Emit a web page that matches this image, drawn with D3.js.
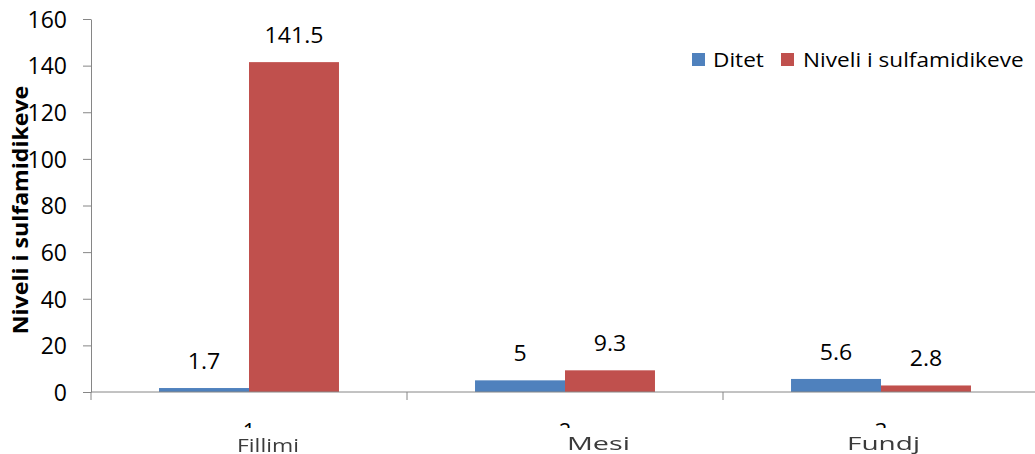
<!DOCTYPE html>
<html>
<head>
<meta charset="utf-8">
<script src="https://cdn.jsdelivr.net/npm/d3@7"></script>
<style>
  html, body { margin: 0; padding: 0; background: #fff; }
  svg { display: block; font-family: "Open Sans", "Noto Sans", sans-serif; }
</style>
</head>
<body>
<svg id="chart" width="1035" height="454"></svg>
<script>
// Category axis: numeric ticks with a name laid over each
const categories = ["1", "2", "3"];
const categoryNames = ["Fillimi", "Mesi", "Fundj"];

// Series
const seriesNames = ["Ditet", "Niveli i sulfamidikeve"];
const ditet = [1.7, 5, 5.6];
const niveli = [141.5, 9.3, 2.8];

// Value axis ticks
const yTicks = [0, 20, 40, 60, 80, 100, 120, 140, 160];

const colors = ["#4F81BD", "#C0504D"];
const axisColor = "#868686";

const svg = d3.select("#chart");
const margin = { left: 91, top: 19, bottom: 392, right: 1039 };

const x0 = d3.scaleBand().domain(categories).range([margin.left, margin.right]);
const x1 = d3.scaleBand().domain(seriesNames).range([0, x0.bandwidth()]).paddingOuter(0.756);
const y = d3.scaleLinear().domain([0, 160]).range([margin.bottom, margin.top]);

const rows = categories.map((c, i) => ({ cat: c, values: [ditet[i], niveli[i]] }));

// Horizontally widened text, used for labels drawn in a wide face
function wideText(g, x, yy, txt, sx, anchor) {
  return g.append("text")
    .attr("transform", `translate(${x},${yy}) scale(${sx},1)`)
    .attr("text-anchor", anchor || "start")
    .text(txt);
}

// Bars
const groups = svg.append("g").selectAll("g").data(rows).join("g")
  .attr("transform", d => `translate(${x0(d.cat)},0)`);

groups.selectAll("rect").data(d => d.values.map((v, k) => ({ k, v }))).join("rect")
  .attr("x", d => x1(seriesNames[d.k]))
  .attr("y", d => y(d.v))
  .attr("width", x1.bandwidth())
  .attr("height", d => y(0) - y(d.v))
  .attr("fill", d => colors[d.k]);

// Value labels
const labelLayer = svg.append("g").attr("font-size", 22).attr("fill", "#000");
rows.forEach(r => {
  r.values.forEach((v, k) => {
    const cx = x0(r.cat) + x1(seriesNames[k]) + x1.bandwidth() / 2;
    wideText(labelLayer, cx, y(v) - 19, String(v), 1.05, "middle");
  });
});

// Y axis
const yAxis = svg.append("g")
  .attr("transform", `translate(${margin.left},0)`)
  .call(d3.axisLeft(y).tickValues(yTicks).tickSize(8).tickPadding(16).tickSizeOuter(0));
yAxis.select(".domain").attr("stroke", axisColor);
yAxis.selectAll(".tick line").attr("stroke", axisColor);
yAxis.selectAll(".tick text")
  .attr("font-size", 23)
  .attr("font-family", "'Open Sans', sans-serif")
  .attr("fill", "#000")
  .attr("dy", "0.36em");

// X axis line and category boundary ticks
const xAxis = svg.append("g");
xAxis.append("line")
  .attr("x1", margin.left).attr("x2", margin.right)
  .attr("y1", y(0)).attr("y2", y(0))
  .attr("stroke", axisColor);
categories.forEach(c => {
  xAxis.append("line")
    .attr("x1", x0(c)).attr("x2", x0(c))
    .attr("y1", y(0)).attr("y2", y(0) + 8)
    .attr("stroke", axisColor);
});

// Numeric category ticks
const numLayer = svg.append("g").attr("font-size", 22).attr("fill", "#000");
categories.forEach(c => {
  numLayer.append("text")
    .attr("x", x0(c) + x0.bandwidth() / 2)
    .attr("y", 439)
    .attr("text-anchor", "middle")
    .text(c);
});

// Category names laid over the numeric ticks on white patches
const defs = svg.append("defs");
defs.append("filter").attr("id", "soft")
  .append("feGaussianBlur").attr("stdDeviation", 0.55);

const nameLayout = [
  { dx: -12, w: 62, base: 452 },
  { dx: 2, w: 63, base: 450 },
  { dx: -34, w: 73, base: 450 }
];
const nameLayer = svg.append("g");
categories.forEach((c, i) => {
  const L = nameLayout[i];
  const left = x0(c) + x0.bandwidth() / 2 + L.dx;
  nameLayer.append("rect")
    .attr("x", left - 12).attr("y", 428)
    .attr("width", L.w + 22).attr("height", 30)
    .attr("fill", "#fff");
  nameLayer.append("text")
    .attr("x", left).attr("y", L.base)
    .attr("font-size", 19)
    .attr("fill", "#3a3a3a")
    .attr("textLength", L.w)
    .attr("lengthAdjust", "spacingAndGlyphs")
    .attr("filter", "url(#soft)")
    .text(categoryNames[i]);
});

// Y axis title
svg.append("text")
  .attr("transform", "translate(28,210) rotate(-90) scale(1.1,1)")
  .attr("text-anchor", "middle")
  .attr("font-size", 21)
  .attr("font-weight", "bold")
  .attr("fill", "#000")
  .text(seriesNames[1]);

// Legend
const legend = svg.append("g").attr("font-size", 20).attr("fill", "#000");
const legendItems = [
  { sx: 692, tx: 713 },
  { sx: 781, tx: 803 }
];
seriesNames.forEach((s, k) => {
  legend.append("rect")
    .attr("x", legendItems[k].sx).attr("y", 53)
    .attr("width", 13).attr("height", 13)
    .attr("fill", colors[k]);
  wideText(legend, legendItems[k].tx, 67, s, 1.13, "start");
});
</script>
</body>
</html>
